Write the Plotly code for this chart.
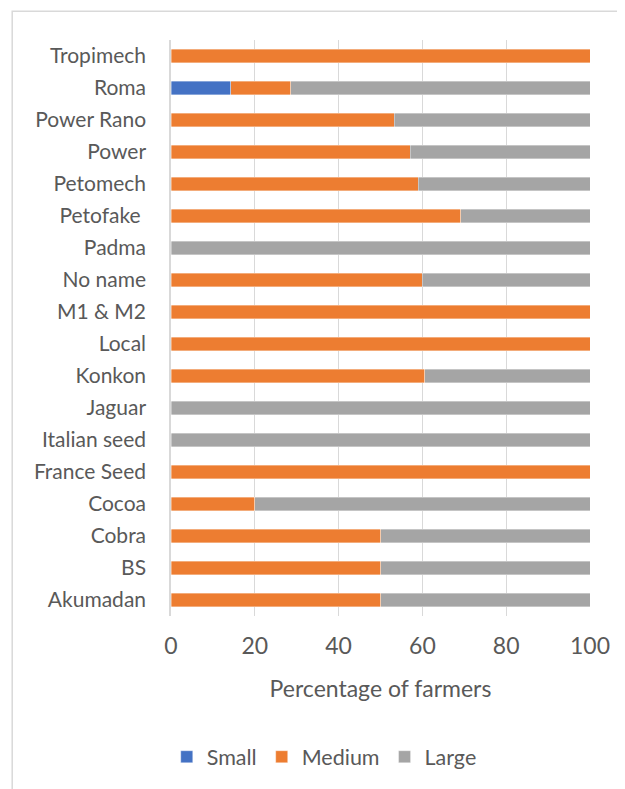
import plotly.graph_objects as go

# categories bottom to top
varieties = ["Akumadan", "BS", "Cobra", "Cocoa", "France Seed", "Italian seed",
             "Jaguar", "Konkon", "Local", "M1 & M2", "No name", "Padma",
             "Petofake ", "Petomech", "Power", "Power Rano", "Roma", "Tropimech"]

small = [0, 0, 0, 0, 0, 0, 0, 0, 0, 0, 0, 0, 0, 0, 0, 0, 14.3, 0]
medium = [50, 50, 50, 20, 100, 0, 0, 60.5, 100, 100, 60, 0, 69.2, 59, 57.1, 53.3, 14.3, 100]
large = [50, 50, 50, 80, 0, 100, 100, 39.5, 0, 0, 40, 100, 30.8, 41, 42.9, 46.7, 71.4, 0]

x_ticks = [0, 20, 40, 60, 80, 100]

series = [("Small", small, "#4472C4"),
          ("Medium", medium, "#ED7D31"),
          ("Large", large, "#A5A5A5")]

fig = go.Figure()
for name, vals, col in series:
    fig.add_trace(go.Bar(y=varieties, x=vals, name=name, orientation="h",
                         marker=dict(color=col, line=dict(color="rgba(255,255,255,0.6)", width=0.6))))

# page has an 8px body margin, so margins are shifted by that
fig.update_layout(
    barmode="stack",
    bargap=0.58,
    width=625, height=789,
    margin=dict(l=163, r=43, t=32, b=181),
    paper_bgcolor="white",
    plot_bgcolor="white",
    font=dict(family="Lato", color="#595959"),
    xaxis=dict(range=[0, 100], tickvals=x_ticks, showgrid=True, gridcolor="#d9d9d9",
               gridwidth=1.3, zeroline=False, showline=False,
               tickfont=dict(size=23, color="#595959"), ticks="", ticklen=0,
               ticklabelstandoff=14,
               title=dict(text="Percentage of farmers", font=dict(size=23, color="#595959"), standoff=22)),
    yaxis=dict(showline=True, linecolor="#d9d9d9", linewidth=1.5, showgrid=False,
               tickfont=dict(size=21, color="#595959"), ticks="", ticklabelstandoff=19),
    legend=dict(orientation="h", xref="container", yref="container", x=0.506, y=0.051,
                xanchor="center", yanchor="middle", font=dict(size=21.5, color="#595959"),
                traceorder="normal"),
    shapes=[dict(type="rect", xref="paper", yref="paper", x0=-0.379, x1=2, y0=-1, y1=1.05,
                 line=dict(color="#d9d9d9", width=1.5), layer="below")]
)

fig.write_html("out.html")
